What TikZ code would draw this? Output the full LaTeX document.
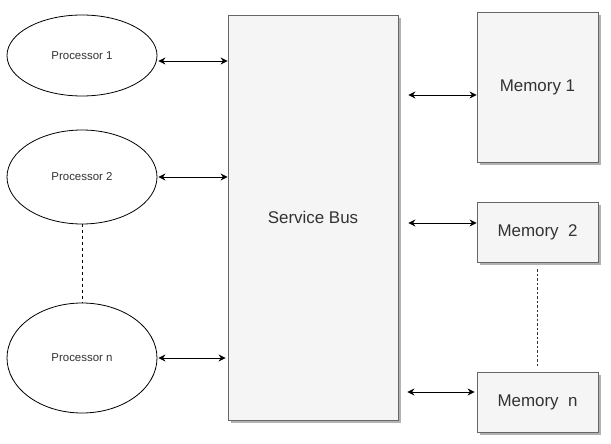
\documentclass[tikz,border=0pt]{standalone}
\usepackage{fontspec}
\setmainfont{Liberation Sans}
\usetikzlibrary{shapes.geometric,arrows.meta,shadows,calc}
\definecolor{boxfill}{HTML}{F5F5F5}
\definecolor{boxline}{HTML}{666666}
\definecolor{txt}{HTML}{333333}
\tikzset{
  proc/.style={ellipse, draw=black, fill=white, line width=0.8bp, minimum width=150bp, inner sep=0pt,
    text=txt, font=\fontsize{11.5}{13}\selectfont},
  gbox/.style={rectangle, draw=boxline, fill=boxfill, line width=0.8bp, inner sep=0pt,
    text=txt, font=\fontsize{17}{20}\selectfont,
    drop shadow={shadow xshift=3bp, shadow yshift=-3bp, fill=black!30, opacity=1}},
  biarrow/.style={{Stealth[length=7bp,width=7bp]}-{Stealth[length=7bp,width=7bp]}, line width=0.9bp, black},
  dashline/.style={line width=0.8bp, dash pattern=on 3bp off 3bp, black},
}
\begin{document}
\begin{tikzpicture}[x=1bp,y=-1bp]
\useasboundingbox (0,0) rectangle (611,444);
% processors
\node[proc, minimum height=81bp] (p1) at (82,55.5) {Processor 1};
\node[proc, minimum height=94bp] (p2) at (82,177) {Processor 2};
\node[proc, minimum height=110bp] (pn) at (82,358) {Processor n};
% bus
\node[gbox, minimum width=170bp, minimum height=405bp] (bus) at (313,217.5) {Service Bus};
% memories
\node[gbox, minimum width=121bp, minimum height=150bp] (m1) at (537.5,87) {Memory 1};
\node[gbox, minimum width=121bp, minimum height=60bp] (m2) at (537.5,232) {Memory\ \ 2};
\node[gbox, minimum width=121bp, minimum height=60bp] (mn) at (537.5,402) {Memory\ \ n};
% processor connectors
\coordinate (p1a) at ([yshift=-5.5bp]p1.east);
\draw[biarrow] ([xshift=1bp]p1a) -- (p1a -| bus.west);
\draw[biarrow] ([xshift=1bp]p2.east) -- (p2.east -| bus.west);
\draw[biarrow] ([xshift=1bp]pn.east) -- ([xshift=-2bp]pn.east -| bus.west);
% memory connectors
\coordinate (m1a) at ([yshift=-8bp]m1.west);
\coordinate (m2a) at ([yshift=9bp]m2.west);
\coordinate (mna) at ([yshift=10bp]mn.west);
\draw[biarrow] ([xshift=10bp]m1a -| bus.east) -- (m1a);
\draw[biarrow] ([xshift=10bp]m2a -| bus.east) -- (m2a);
\draw[biarrow] ([xshift=9bp]mna -| bus.east) -- ([xshift=-2bp]mna);
% dashed continuations
\draw[dashline] (p2.south) -- (pn.north);
\draw[dashline, black!80, dash pattern=on 2.5bp off 2bp] ([yshift=-7bp]m2.south) -- ([yshift=4bp]mn.north);
\end{tikzpicture}
\end{document}
